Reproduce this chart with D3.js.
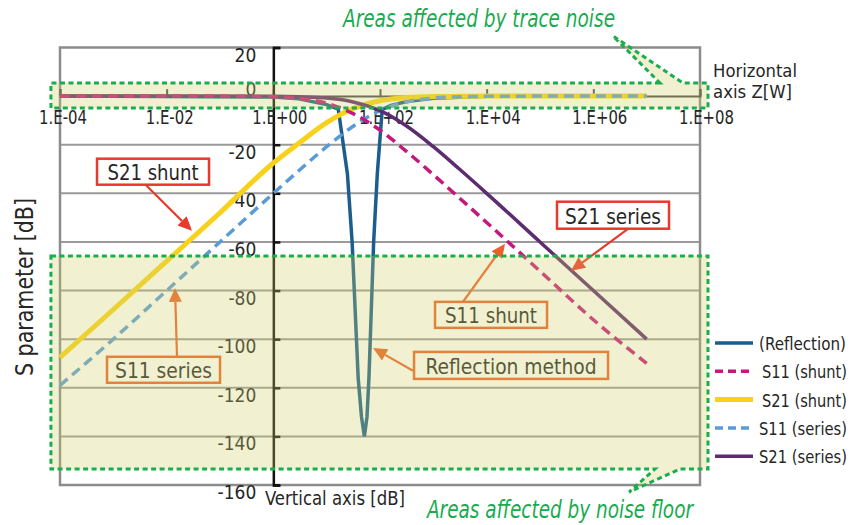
<!DOCTYPE html>
<html>
<head>
<meta charset="utf-8">
<script src="https://cdn.jsdelivr.net/npm/d3@7"></script>
<style>
  body { margin: 0; background: #fff; }
  text { font-family: "Liberation Sans Narrow", "Arial Narrow", "DejaVu Sans Condensed", "Roboto Condensed", sans-serif; fill: #262626; }
</style>
</head>
<body>
<svg id="chart" width="855" height="525"></svg>
<script>
// impedance sweep (ohm) shared by the four S-parameter curves
var zValues   = [1e-4, 1e-3, 1e-2, 1e-1, 1, 3, 10, 30, 100, 300, 1e3, 3e3, 1e4, 1e5, 1e6, 1e7]
var s11Shunt  = [0, 0, 0, 0, -0.3, -1, -2.9, -7, -14, -22.4, -32.3, -41.7, -52, -72, -92, -110]
var s21Shunt  = [-107.5, -87.8, -67.9, -48, -27.5, -19.4, -10.9, -5.3, -1.9, -0.7, -0.2, -0.1, 0, 0, 0, 0]
var s11Series = [-119, -100, -80, -60, -40, -30.7, -20.8, -12.7, -6, -2.5, -0.8, -0.3, -0.1, 0, 0, 0]
var s21Series = [0, 0, 0, 0, -0.1, -0.3, -0.8, -2.3, -6, -12, -20.8, -29.8, -40, -60, -80, -100]

// reflection method trace, read more densely around the 50 ohm dip
var reflZ  = [1e-4, 1, 3, 10, 16.5, 24.5, 30, 39, 45, 51, 57, 62, 76, 89, 110, 160, 320, 1e3, 1e4, 1e7]
var reflDb = [0, -0.35, -1.1, -3.5, -5.3, -32, -60, -116, -132, -140, -132, -116, -60, -32, -5.5, -3.8, -2.2, -0.9, -0.1, 0]

// axes
var xTicks      = [1e-4, 1e-2, 1, 1e2, 1e4, 1e6, 1e8]
var xTickLabels = ["1.E-04", "1.E-02", "1.E+00", "1.E+02", "1.E+04", "1.E+06", "1.E+08"]
var yTicks      = [20, 0, -20, -40, -60, -80, -100, -120, -140, -160]

var seriesNames = ["(Reflection)", "S11 (shunt)", "S21 (shunt)", "S11 (series)", "S21 (series)"]

var svg = d3.select("#chart")

var x = d3.scaleLog().domain([1e-4, 1e8]).range([60, 700])
var y = d3.scaleLinear().domain([-160, 20]).range([485, 47.5])
// helper for annotation geometry given as [log10 Z, dB]
function pt(p) { return [x(Math.pow(10, p[0])), y(p[1])] }

// horizontal grid lines
svg.selectAll(".grid")
  .data(yTicks.filter(function(d){ return d < 0 && d > -160 }))
  .enter()
  .append("line")
    .attr("x1", x(1e-4))
    .attr("x2", x(1e8))
    .attr("y1", function(d){ return y(d) })
    .attr("y2", function(d){ return y(d) })
    .attr("stroke", "#9a9a9a")
    .attr("stroke-width", 2)

// plot frame
svg.append("rect")
  .attr("x", x(1e-4))
  .attr("y", y(20))
  .attr("width", x(1e8) - x(1e-4))
  .attr("height", y(-160) - y(20))
  .attr("fill", "none")
  .attr("stroke", "#8c8c8c")
  .attr("stroke-width", 2.5)

// horizontal axis (Z) at 0 dB
var gx = svg.append("g")
  .attr("transform", "translate(0," + y(0) + ")")
  .call(d3.axisTop(x).tickValues(xTicks).tickSize(7).tickSizeOuter(7).tickFormat(""))
gx.selectAll("path, line").attr("stroke", "#4a4a4a").attr("stroke-width", 2)

// vertical axis (dB) at Z = 1
var gy = svg.append("g")
  .attr("transform", "translate(" + x(1) + ",0)")
  .call(d3.axisRight(y).tickValues(yTicks).tickSize(7).tickSizeOuter(7).tickFormat(""))
gy.selectAll("path, line").attr("stroke", "#111").attr("stroke-width", 2.5)

// tick labels
svg.selectAll(".xlab")
  .data(xTicks)
  .enter()
  .append("text")
    .attr("x", function(d){ return x(d) - 21 })
    .attr("y", 124)
    .attr("font-size", 19)
    .attr("textLength", function(d, i){ return xTickLabels[i].indexOf("-") > 0 ? 48 : 55 })
    .attr("lengthAdjust", "spacingAndGlyphs")
    .text(function(d, i){ return xTickLabels[i] })

svg.selectAll(".ylab")
  .data(yTicks)
  .enter()
  .append("text")
    .attr("x", x(1) - 17)
    .attr("y", function(d){ return d === 0 ? y(d) : y(d) + 14 })
    .attr("text-anchor", "end")
    .attr("font-size", 19)
    .text(function(d){ return d })

// curves
var line = d3.line()
  .x(function(d){ return x(d[0]) })
  .y(function(d){ return y(d[1]) })
  .curve(d3.curveMonotoneX)

function pairs(zs, vs) { return zs.map(function(z, i){ return [z, vs[i]] }) }

var series = [
  { name: seriesNames[0], data: pairs(reflZ, reflDb),      color: "#1b5e8d", width: 3.5, dash: null,   curve: d3.curveLinear },
  { name: seriesNames[2], data: pairs(zValues, s21Shunt),  color: "#f8d11b", width: 5,   dash: null,   curve: d3.curveMonotoneX },
  { name: seriesNames[3], data: pairs(zValues, s11Series), color: "#5b9bd5", width: 3.5, dash: "10,6", curve: d3.curveMonotoneX },
  { name: seriesNames[4], data: pairs(zValues, s21Series), color: "#5d2b6f", width: 3.5, dash: null,   curve: d3.curveMonotoneX },
  { name: seriesNames[1], data: pairs(zValues, s11Shunt),  color: "#c4197c", width: 3.5, dash: "10,6", curve: d3.curveMonotoneX }
]

svg.selectAll(".curve")
  .data(series)
  .enter()
  .append("path")
    .attr("d", function(d){ return line.curve(d.curve)(d.data) })
    .attr("fill", "none")
    .attr("stroke", function(d){ return d.color })
    .attr("stroke-width", function(d){ return d.width })
    .attr("stroke-dasharray", function(d){ return d.dash })

// callouts: box centre, arrow start and arrow tip in [log10 Z, dB]
var callouts = [
  { text: "S21 shunt",         c: [-2.256, -31.1], w: 112, h: 26, len: 91,  from: [-2.40, -36.4], tip: [-1.525, -55.4], color: "#e8392d" },
  { text: "S21 series",        c: [6.369, -49.0],  w: 112, h: 27, len: 96,  from: [6.65, -54.6],  tip: [5.582, -71.9],  color: "#e8392d" },
  { text: "S11 shunt",         c: [4.082, -90.0],  w: 112, h: 26, len: 92,  from: [3.557, -84.6], tip: [4.344, -60.7],  color: "#ea6229" },
  { text: "S11 series",        c: [-2.059, -112.6], w: 113, h: 26, len: 97, from: [-1.806, -107.3], tip: [-1.844, -78.9], color: "#ea6229" },
  { text: "Reflection method", c: [4.457, -110.8], w: 194, h: 27, len: 171, from: [2.619, -113.0], tip: [1.869, -103.6], color: "#ea6229" }
]

callouts.forEach(function(a){
  var c = pt(a.c), s = pt(a.from), t = pt(a.tip)
  var dx = t[0] - s[0], dy = t[1] - s[1], L = Math.sqrt(dx * dx + dy * dy)
  var ux = dx / L, uy = dy / L, hl = 14, hw = 6.5
  var bx = t[0] - ux * hl, by = t[1] - uy * hl
  svg.append("line")
    .attr("x1", s[0]).attr("y1", s[1]).attr("x2", bx).attr("y2", by)
    .attr("stroke", a.color).attr("stroke-width", 2.2)
  svg.append("polygon")
    .attr("points", [t, [bx - uy * hw, by + ux * hw], [bx + uy * hw, by - ux * hw]].join(" "))
    .attr("fill", a.color)
  svg.append("rect")
    .attr("x", c[0] - a.w / 2).attr("y", c[1] - a.h / 2)
    .attr("width", a.w).attr("height", a.h)
    .attr("fill", "#fff").attr("stroke", a.color).attr("stroke-width", 2.5)
  svg.append("text")
    .attr("x", c[0]).attr("y", c[1] + 8.5)
    .attr("text-anchor", "middle")
    .attr("font-size", 21)
    .attr("textLength", a.len)
    .attr("lengthAdjust", "spacingAndGlyphs")
    .text(a.text)
})

// shaded areas affected by trace noise / noise floor, [log10 Z, dB]
var traceArea = [[7.25, 5.4], [-4.17, 5.4], [-4.17, -4.9], [8.15, -4.9], [8.15, 5.4], [7.68, 5.4], [6.37, 24.7]]
var floorArea = [[-4.17, -65.8], [8.15, -65.8], [8.15, -153.4], [7.625, -153.4], [6.67, -162.9], [7.156, -153.4], [-4.17, -153.4]]

;[traceArea, floorArea].forEach(function(area){
  var d = "M" + area.map(pt).join("L") + "Z"
  svg.append("path")
    .attr("d", d)
    .attr("fill", "#cfd26a")
    .attr("fill-opacity", 0.3)
  svg.append("path")
    .attr("d", d)
    .attr("fill", "none")
    .attr("stroke", "#19ad4c")
    .attr("stroke-width", 3)
    .attr("stroke-dasharray", "5,3.5")
})

svg.append("text")
  .attr("x", 343).attr("y", 27)
  .attr("font-size", 24).attr("font-style", "italic")
  .attr("textLength", 272).attr("lengthAdjust", "spacingAndGlyphs")
  .style("fill", "#19ab4f")
  .text("Areas affected by trace noise")

svg.append("text")
  .attr("x", 427).attr("y", 518)
  .attr("font-size", 24).attr("font-style", "italic")
  .attr("textLength", 266).attr("lengthAdjust", "spacingAndGlyphs")
  .style("fill", "#19ab4f")
  .text("Areas affected by noise floor")

// axis titles
svg.append("text")
  .attr("transform", "translate(33,287) rotate(-90)")
  .attr("text-anchor", "middle")
  .attr("font-size", 24)
  .attr("textLength", 178).attr("lengthAdjust", "spacingAndGlyphs")
  .text("S parameter [dB]")

svg.append("text")
  .attr("x", 265).attr("y", 505)
  .attr("font-size", 19)
  .attr("textLength", 140).attr("lengthAdjust", "spacingAndGlyphs")
  .text("Vertical axis [dB]")

svg.append("text")
  .attr("x", 713).attr("y", 77)
  .attr("font-size", 18)
  .attr("textLength", 84).attr("lengthAdjust", "spacingAndGlyphs")
  .text("Horizontal")

svg.append("text")
  .attr("x", 713).attr("y", 98)
  .attr("font-size", 18)
  .attr("textLength", 79).attr("lengthAdjust", "spacingAndGlyphs")
  .text("axis Z[W]")

// legend
var legendOrder = [0, 4, 1, 2, 3]
var legendLen = [87, 85, 85, 88, 88]
var legend = svg.selectAll(".legend")
  .data(legendOrder.map(function(i){ return series[i] }))
  .enter()
  .append("g")
    .attr("transform", function(d, i){ return "translate(715," + (343 + i * 28.3) + ")" })

legend.append("line")
  .attr("x1", 0).attr("x2", 38)
  .attr("stroke", function(d){ return d.color })
  .attr("stroke-width", function(d){ return d.width })
  .attr("stroke-dasharray", function(d){ return d.dash ? "8,5" : null })

legend.append("text")
  .attr("x", function(d, i){ return legendLen[i] > 86 ? 44 : 47 })
  .attr("y", 7)
  .attr("font-size", 17)
  .attr("textLength", function(d, i){ return legendLen[i] })
  .attr("lengthAdjust", "spacingAndGlyphs")
  .text(function(d){ return d.name })
</script>
</body>
</html>
